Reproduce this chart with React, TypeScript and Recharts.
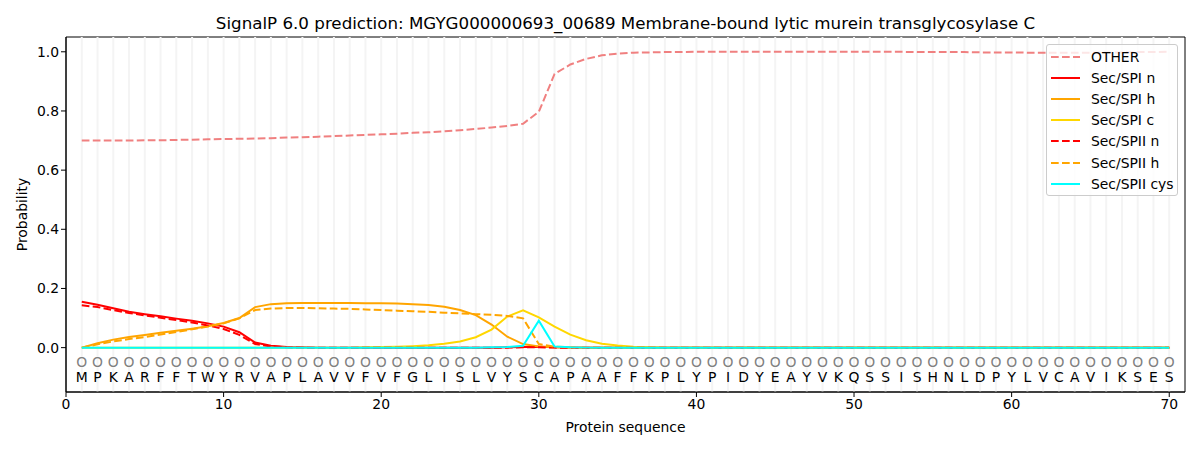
import React from 'react';
import {
  ComposedChart,
  Line,
  Scatter,
  XAxis,
  YAxis,
  ReferenceLine,
  ReferenceArea,
} from 'recharts';

const TITLE = 'SignalP 6.0 prediction: MGYG000000693_00689 Membrane-bound lytic murein transglycosylase C';

const sequence = 'MPKARFFTWYRVAPLAVVFVFGLISLVYSCAPAAFFKPLYPIDYEAYVKQSSISHNLDPYLVCAVIKSES'.split('');

const xTicks = [0, 10, 20, 30, 40, 50, 60, 70];
const yTicks = [0, 0.2, 0.4, 0.6, 0.8, 1.0];

const other = [
  0.700, 0.700, 0.700, 0.700, 0.701, 0.701, 0.702, 0.703, 0.704, 0.705,
  0.706, 0.707, 0.708, 0.710, 0.711, 0.713, 0.715, 0.717, 0.719, 0.721,
  0.723, 0.726, 0.728, 0.731, 0.735, 0.739, 0.744, 0.749, 0.757, 0.797,
  0.925, 0.957, 0.976, 0.988, 0.994, 0.997, 0.998, 0.999, 0.999, 1.000,
  1.000, 1.000, 1.000, 1.000, 1.000, 1.000, 1.000, 1.000, 1.000, 1.000,
  1.000, 1.000, 1.000, 0.999, 0.999, 0.999, 0.999, 0.998, 0.998, 0.998,
  0.997, 0.997, 0.997, 0.997, 0.997, 0.998, 0.998, 0.999, 0.999, 1.000,
];

const spiN = [
  0.155, 0.145, 0.133, 0.121, 0.113, 0.106, 0.098, 0.091, 0.082, 0.071,
  0.052, 0.017, 0.006, 0.002, 0.001, 0, 0, 0, 0, 0,
  0, 0, 0, 0, 0, 0, 0, 0.001, 0.002, 0.003,
  0.001, 0, 0, 0, 0, 0, 0, 0, 0, 0,
  0, 0, 0, 0, 0, 0, 0, 0, 0, 0,
  0, 0, 0, 0, 0, 0, 0, 0, 0, 0,
  0, 0, 0, 0, 0, 0, 0, 0, 0, 0,
];

const spiH = [
  0, 0.015, 0.027, 0.036, 0.043, 0.050, 0.057, 0.064, 0.072, 0.083,
  0.100, 0.137, 0.147, 0.150, 0.151, 0.151, 0.151, 0.151, 0.150, 0.150,
  0.149, 0.147, 0.144, 0.138, 0.127, 0.110, 0.078, 0.037, 0.012, 0.004,
  0.001, 0, 0, 0, 0, 0, 0, 0, 0, 0,
  0, 0, 0, 0, 0, 0, 0, 0, 0, 0,
  0, 0, 0, 0, 0, 0, 0, 0, 0, 0,
  0, 0, 0, 0, 0, 0, 0, 0, 0, 0,
];

const spiC = [
  0, 0, 0, 0, 0, 0, 0, 0, 0, 0,
  0, 0, 0, 0, 0, 0, 0, 0, 0.001, 0.002,
  0.003, 0.005, 0.008, 0.013, 0.021, 0.035, 0.061, 0.105, 0.126, 0.102,
  0.071, 0.044, 0.025, 0.013, 0.007, 0.003, 0.001, 0, 0, 0,
  0, 0, 0, 0, 0, 0, 0, 0, 0, 0,
  0, 0, 0, 0, 0, 0, 0, 0, 0, 0,
  0, 0, 0, 0, 0, 0, 0, 0, 0, 0,
];

const spiiN = [
  0.143, 0.137, 0.127, 0.117, 0.109, 0.101, 0.093, 0.085, 0.075, 0.063,
  0.043, 0.012, 0.004, 0.001, 0, 0, 0, 0, 0, 0,
  0, 0, 0, 0, 0, 0, 0, 0, 0.001, 0.001,
  0, 0, 0, 0, 0, 0, 0, 0, 0, 0,
  0, 0, 0, 0, 0, 0, 0, 0, 0, 0,
  0, 0, 0, 0, 0, 0, 0, 0, 0, 0,
  0, 0, 0, 0, 0, 0, 0, 0, 0, 0,
];

const spiiH = [
  0, 0.011, 0.021, 0.029, 0.036, 0.044, 0.053, 0.062, 0.071, 0.082,
  0.099, 0.127, 0.132, 0.134, 0.134, 0.133, 0.132, 0.131, 0.129, 0.127,
  0.125, 0.123, 0.121, 0.118, 0.116, 0.113, 0.111, 0.107, 0.099, 0.012,
  0.003, 0.001, 0, 0, 0, 0, 0, 0, 0, 0,
  0, 0, 0, 0, 0, 0, 0, 0, 0, 0,
  0, 0, 0, 0, 0, 0, 0, 0, 0, 0,
  0, 0, 0, 0, 0, 0, 0, 0, 0, 0,
];

const spiiCys = [
  0, 0, 0, 0, 0, 0, 0, 0, 0, 0,
  0, 0, 0, 0, 0, 0, 0, 0, 0, 0,
  0, 0, 0, 0, 0, 0, 0.001, 0.002, 0.006, 0.091,
  0.004, 0.001, 0, 0, 0, 0, 0, 0, 0, 0,
  0, 0, 0, 0, 0, 0, 0, 0, 0, 0,
  0, 0, 0, 0, 0, 0, 0, 0, 0, 0,
  0, 0, 0, 0, 0, 0, 0, 0, 0, 0,
];

// row of residues drawn just under zero
const SEQ_ROW_Y = -0.047;
const FONT = '"DejaVu Sans", sans-serif';
const DASH = '7.7 3.3';

const series = [
  { key: 'other', name: 'OTHER', color: '#f08080', dash: DASH },
  { key: 'spiN', name: 'Sec/SPI n', color: '#ff0000', dash: undefined },
  { key: 'spiH', name: 'Sec/SPI h', color: '#ffa500', dash: undefined },
  { key: 'spiC', name: 'Sec/SPI c', color: '#ffd700', dash: undefined },
  { key: 'spiiN', name: 'Sec/SPII n', color: '#ff0000', dash: DASH },
  { key: 'spiiH', name: 'Sec/SPII h', color: '#ffa500', dash: DASH },
  { key: 'spiiCys', name: 'Sec/SPII cys', color: '#00ffff', dash: undefined },
];

const data = sequence.map((aa, i) => ({
  pos: i + 1,
  other: other[i],
  spiN: spiN[i],
  spiH: spiH[i],
  spiC: spiC[i],
  spiiN: spiiN[i],
  spiiH: spiiH[i],
  spiiCys: spiiCys[i],
}));

const seqData = sequence.map((aa, i) => ({ pos: i + 1, y: SEQ_ROW_Y, aa }));

const Residue = (props: any) => {
  const { cx, cy, payload } = props;
  return (
    <g fontSize={13.9} fontFamily={FONT} textAnchor="middle">
      <text x={cx} y={cy} dominantBaseline="central" fill="#808080">O</text>
      <text x={cx} y={cy + 15.5} dominantBaseline="central" fill="#000">{payload.aa}</text>
    </g>
  );
};

const LegendBox = () => (
  <div
    style={{
      position: 'absolute',
      left: 1046,
      top: 44,
      boxSizing: 'border-box',
      width: 132,
      border: '1px solid #cccccc',
      borderRadius: 3,
      background: 'rgba(255,255,255,0.8)',
      padding: '1px 0 1px 4px',
      fontFamily: FONT,
      fontSize: 13.9,
      color: '#000',
    }}
  >
    {series.map((s) => (
      <div key={s.key} style={{ display: 'flex', alignItems: 'center', height: 21.2 }}>
        <svg width={29} height={10} style={{ marginRight: 11, flex: 'none' }}>
          <line x1={0} y1={5} x2={29} y2={5} stroke={s.color} strokeWidth={2} strokeDasharray={s.dash} />
        </svg>
        <span style={{ whiteSpace: 'nowrap' }}>{s.name}</span>
      </div>
    ))}
  </div>
);

export default function App() {
  return (
    <div style={{ position: 'absolute', left: 0, top: 0, width: 1200, height: 450, background: '#fff' }}>
      <div
        style={{
          position: 'absolute',
          left: 0,
          top: 12,
          width: 1251,
          height: 22,
          lineHeight: '22px',
          textAlign: 'center',
          fontFamily: FONT,
          fontSize: 16.7,
          color: '#000',
          whiteSpace: 'nowrap',
        }}
      >
        {TITLE}
      </div>
      <ComposedChart width={1200} height={450} data={data} margin={{ top: 37, right: 15, bottom: 0, left: 0 }}>
        {data.map((d) => (
          <ReferenceLine key={d.pos} x={d.pos} stroke="#f4f4f4" strokeWidth={2} />
        ))}
        <XAxis
          dataKey="pos"
          type="number"
          domain={[0, 71]}
          ticks={xTicks}
          height={58}
          allowDataOverflow
          stroke="#000"
          tick={{ fill: '#000', fontSize: 13.9, fontFamily: FONT }}
          tickSize={5}
          label={{ value: 'Protein sequence', position: 'insideBottom', offset: 18, fill: '#000', fontSize: 13.9, fontFamily: FONT }}
        />
        <YAxis
          type="number"
          domain={[-0.15, 1.05]}
          ticks={yTicks}
          width={66}
          allowDataOverflow
          stroke="#000"
          tickFormatter={(v: number) => v.toFixed(1)}
          tick={{ fill: '#000', fontSize: 13.9, fontFamily: FONT }}
          tickSize={5}
          label={{
            value: 'Probability',
            angle: -90,
            position: 'insideLeft',
            offset: 22,
            fill: '#000',
            fontSize: 13.9,
            fontFamily: FONT,
            style: { textAnchor: 'middle' },
          }}
        />
        <ReferenceArea x1={0} x2={71} y1={-0.15} y2={1.05} fill="none" stroke="#000" strokeWidth={1} />
        {series.map((s) => (
          <Line
            key={s.key}
            type="linear"
            dataKey={s.key}
            name={s.name}
            stroke={s.color}
            strokeWidth={2}
            strokeDasharray={s.dash}
            dot={false}
            activeDot={false}
            isAnimationActive={false}
          />
        ))}
        <Scatter data={seqData} dataKey="y" shape={Residue} isAnimationActive={false} legendType="none" />
      </ComposedChart>
      <LegendBox />
    </div>
  );
}
